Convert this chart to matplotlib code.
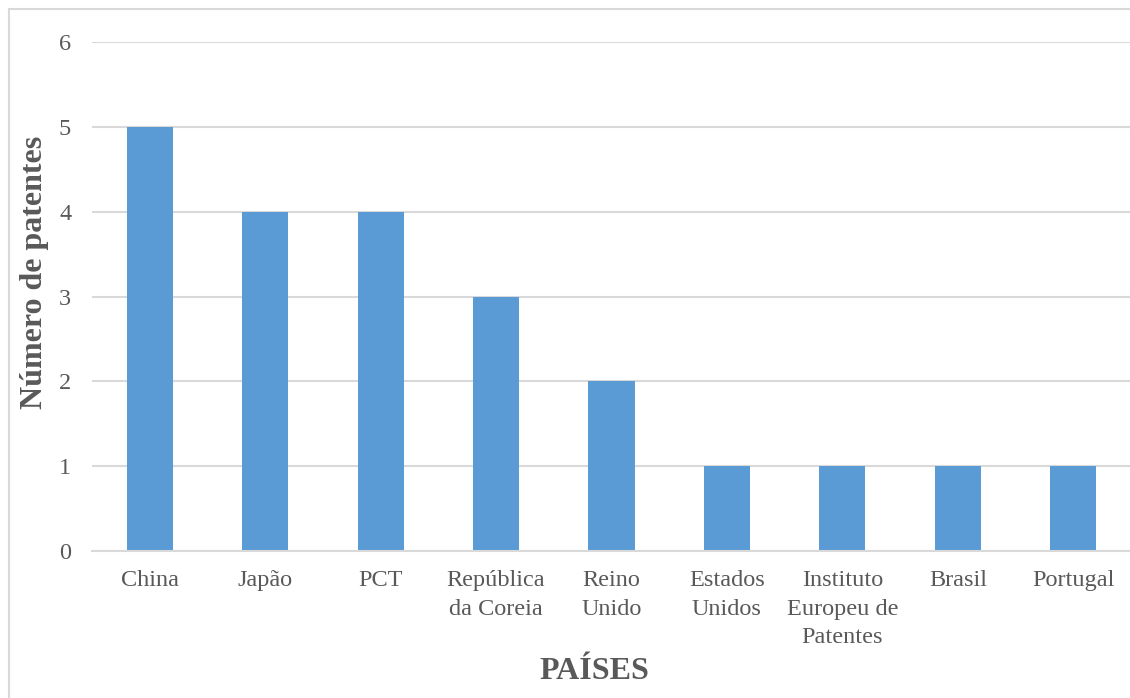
import matplotlib.pyplot as plt
from matplotlib.patches import Rectangle

paises = ["China", "Japão", "PCT", "República\nda Coreia", "Reino\nUnido",
          "Estados\nUnidos", "Instituto\nEuropeu de\nPatentes", "Brasil", "Portugal"]
patentes = [5, 4, 4, 3, 2, 1, 1, 1, 1]

plt.rcParams['font.family'] = ['Liberation Serif', 'DejaVu Serif']
cinza = '#595959'

fig = plt.figure(figsize=(11.3, 6.98), dpi=100)
ax = fig.add_axes([0.0814, 0.2106, 0.9195, 0.729])

x = range(len(paises))
ax.bar(x, patentes, width=0.4, color='#5B9BD5', zorder=3)

ax.set_xlim(-0.5, len(paises) - 0.5)
ax.set_ylim(0, 6)
ax.set_yticks(range(0, 7))
ax.set_xticks(list(x))
ax.set_xticklabels(paises, linespacing=1.45)
ax.yaxis.grid(True, color='#D9D9D9', linewidth=1.5, zorder=0)
for s in ['top', 'right', 'left']:
    ax.spines[s].set_visible(False)
ax.spines['bottom'].set_color('#D9D9D9')
ax.spines['bottom'].set_linewidth(1.5)
ax.spines['bottom'].set_zorder(4)
ax.tick_params(axis='both', length=0, labelsize=17.5, labelcolor=cinza)
ax.tick_params(axis='x', pad=14)
ax.tick_params(axis='y', pad=15)

ax.set_ylabel("Número de patentes", fontsize=23, fontweight='bold', color=cinza)
ax.set_xlabel("PAÍSES", fontsize=23, fontweight='bold', color=cinza)
ax.yaxis.set_label_coords(-0.041, 0.548)
ax.xaxis.set_label_coords(0.484, -0.208)

# moldura do gráfico
fig.patches.append(Rectangle((9 / 1130, -0.1), 1.1, 0.1 + (698 - 9) / 698,
                             transform=fig.transFigure, fill=False,
                             edgecolor='#D9D9D9', linewidth=1.5))

fig.savefig("out.png", dpi=100)
